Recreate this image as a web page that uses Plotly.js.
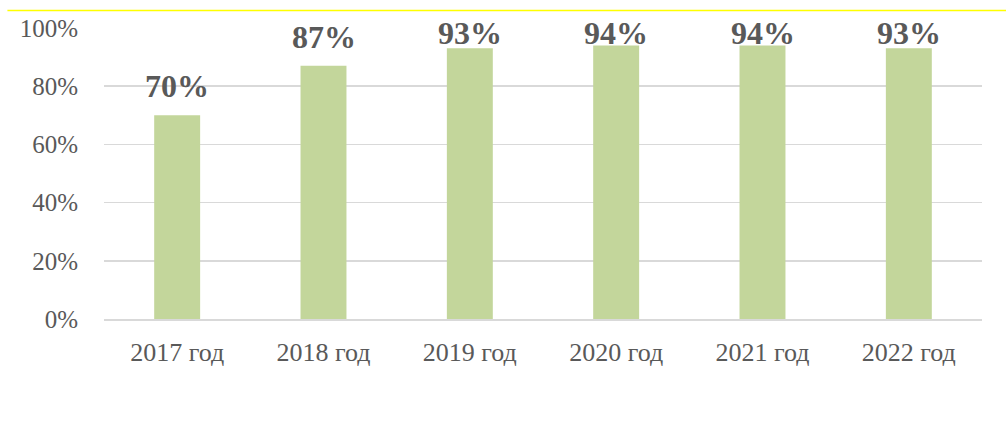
<!DOCTYPE html>
<html>
<head>
<meta charset="utf-8">
<script src="https://cdn.plot.ly/plotly-3.0.1.min.js"></script>
<style>html,body{margin:0;padding:0;background:#fff;}#chart{width:1006px;height:425px;}</style>
</head>
<body>
<div id="chart"></div>
<script>
var categories = ["2017 год", "2018 год", "2019 год", "2020 год", "2021 год", "2022 год"];
var values = [0.70, 0.87, 0.93, 0.94, 0.94, 0.93];
var labels = ["70%", "87%", "93%", "94%", "94%", "93%"];
var yTickVals = [0, 0.2, 0.4, 0.6, 0.8, 1.0];
var yTickText = ["0%", "20%", "40%", "60%", "80%", "100%"];

var W = 1006, H = 425;
var M = {l: 104, r: 24, t: 27.5, b: 105.5};
var plotH = H - M.t - M.b;
var serif = "Liberation Serif, Times New Roman, serif";

var trace = {
  type: "bar",
  x: categories,
  y: values,
  marker: {color: "#c3d69b"},
  hoverinfo: "none"
};

// Data labels: sit ~18px above the bar, but kept inside the chart area (as Excel does)
var annotations = values.map(function (v, i) {
  var barTopPx = M.t + (1 - v) * plotH;
  var gap = Math.min(18, barTopPx - 44);
  return {
    xref: "x", yref: "y", x: categories[i], y: v,
    text: "<b>" + labels[i] + "</b>",
    showarrow: false, yanchor: "bottom", xanchor: "center",
    yshift: gap - 9,
    font: {family: serif, size: 32, color: "#595959"}
  };
});

var layout = {
  width: W, height: H,
  margin: M,
  paper_bgcolor: "#ffffff",
  plot_bgcolor: "#ffffff",
  bargap: 0.686,
  showlegend: false,
  font: {family: serif, color: "#595959"},
  xaxis: {
    type: "category",
    tickfont: {size: 26, color: "#595959"},
    ticks: "outside", ticklen: 9, tickcolor: "rgba(0,0,0,0)",
    showgrid: false, showline: true, linecolor: "#d9d9d9", linewidth: 1.5,
    zeroline: false
  },
  yaxis: {
    range: [0, 1],
    tickvals: yTickVals,
    ticktext: yTickText,
    tickfont: {size: 25, color: "#595959"},
    ticks: "outside", ticklen: 20, tickcolor: "rgba(0,0,0,0)",
    showgrid: true, gridcolor: "#d9d9d9", gridwidth: 1.5,
    zeroline: false, showline: false
  },
  annotations: annotations,
  shapes: [{
    type: "line", xref: "paper", yref: "paper",
    x0: -0.11, x1: 1.03, y0: 1.06, y1: 1.06,
    line: {color: "#ffff00", width: 1.5}
  }]
};

Plotly.newPlot("chart", [trace], layout, {staticPlot: true, displayModeBar: false});
</script>
</body>
</html>
